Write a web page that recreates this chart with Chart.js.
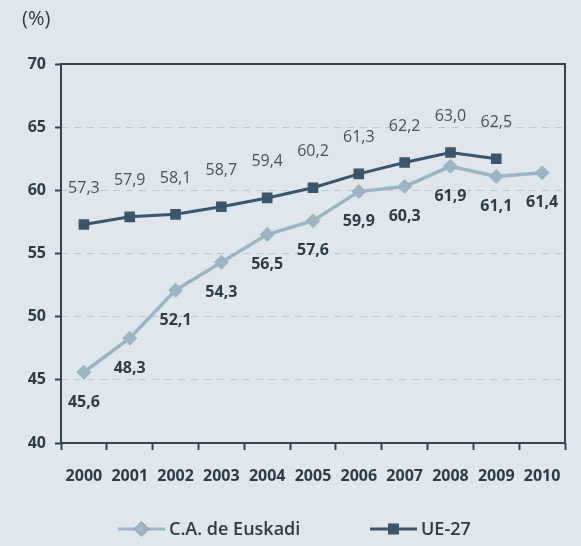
<!DOCTYPE html>
<html>
<head>
<meta charset="utf-8">
<script src="https://cdn.jsdelivr.net/npm/chart.js@4"></script>
<style>
  html, body { margin: 0; padding: 0; background: #dfe6ec; }
  #wrap { width: 581px; height: 546px; position: relative; }
</style>
</head>
<body>
<div id="wrap"><canvas id="myChart" width="581" height="546"></canvas></div>
<script>
const years = ['2000', '2001', '2002', '2003', '2004', '2005', '2006', '2007', '2008', '2009', '2010'];
const euskadi = [45.6, 48.3, 52.1, 54.3, 56.5, 57.6, 59.9, 60.3, 61.9, 61.1, 61.4];
const ue27 = [57.3, 57.9, 58.1, 58.7, 59.4, 60.2, 61.3, 62.2, 63.0, 62.5, null];
const seriesNames = ['C.A. de Euskadi', 'UE-27'];
const unitLabel = '(%)';

const dark = '#34434f';
const ueColor = '#3c5569';
const euColor = '#9db5c1';
const fontFam = '"Open Sans", "DejaVu Sans", sans-serif';

function fmt(v) {
    return v.toFixed(1).replace('.', ',');
}

// value labels, frame, unit and legend
const extras = {
    id: 'extras',
    beforeDatasetsDraw(chart) {
        const { ctx, chartArea: a } = chart;
        ctx.save();
        ctx.strokeStyle = dark;
        ctx.lineWidth = 2;
        ctx.strokeRect(a.left, a.top, a.right - a.left, a.bottom - a.top);
        ctx.restore();
    },
    afterDatasetsDraw(chart) {
        const ctx = chart.ctx;
        ctx.save();
        ctx.textAlign = 'center';
        ctx.textBaseline = 'middle';
        chart.data.datasets.forEach((ds, i) => {
            const meta = chart.getDatasetMeta(i);
            meta.data.forEach((pt, j) => {
                const v = ds.data[j];
                if (v == null) return;
                if (i === 0) {
                    ctx.font = 'bold 16px ' + fontFam;
                    ctx.fillStyle = '#2f3b45';
                    ctx.fillText(fmt(v), pt.x, pt.y + 30);
                } else {
                    ctx.font = '16px ' + fontFam;
                    ctx.fillStyle = '#46525c';
                    ctx.fillText(fmt(v), pt.x, pt.y - 36);
                }
            });
        });

        // unit
        ctx.textAlign = 'left';
        ctx.font = '20px ' + fontFam;
        ctx.fillStyle = '#2f3b45';
        ctx.fillText(unitLabel, 22, 19);

        // legend
        const items = [{ x: 118, ds: chart.data.datasets[0] }, { x: 370, ds: chart.data.datasets[1] }];
        const ly = 529;
        items.forEach(it => {
            ctx.strokeStyle = it.ds.borderColor;
            ctx.lineWidth = 3;
            ctx.beginPath();
            ctx.moveTo(it.x, ly);
            ctx.lineTo(it.x + 47, ly);
            ctx.stroke();
            Chart.helpers.drawPoint(ctx, {
                pointStyle: it.ds.pointStyle,
                radius: it.ds.pointRadius,
                borderWidth: 0,
                rotation: 0
            }, it.x + 23.5, ly);
            ctx.fillStyle = it.ds.borderColor;
            ctx.fill();
            ctx.font = '600 18px ' + fontFam;
            ctx.fillStyle = '#2f3b45';
            ctx.fillText(it.ds.label, it.x + 51, ly + 1);
        });
        ctx.restore();
    }
};

const ctx = document.getElementById('myChart').getContext('2d');
new Chart(ctx, {
    type: 'line',
    data: {
        labels: years,
        datasets: [
            {
                label: seriesNames[0],
                data: euskadi,
                borderColor: euColor,
                backgroundColor: euColor,
                pointBackgroundColor: euColor,
                borderWidth: 3.5,
                pointStyle: 'rectRot',
                pointRadius: 7.5,
                pointBorderWidth: 0,
                tension: 0
            },
            {
                label: seriesNames[1],
                data: ue27,
                borderColor: ueColor,
                backgroundColor: ueColor,
                pointBackgroundColor: ueColor,
                borderWidth: 3,
                pointStyle: 'rect',
                pointRadius: 7.5,
                pointBorderWidth: 0,
                tension: 0
            }
        ]
    },
    options: {
        responsive: false,
        animation: false,
        events: [],
        layout: { padding: { top: 64, right: 16, left: 0, bottom: 0 } },
        plugins: {
            legend: { display: false },
            tooltip: { enabled: false }
        },
        scales: {
            x: {
                offset: true,
                grid: {
                    offset: true,
                    drawOnChartArea: false,
                    drawTicks: true,
                    tickLength: 7,
                    tickWidth: 2,
                    tickColor: dark
                },
                border: { display: false },
                ticks: {
                    color: '#2f3b45',
                    font: { family: fontFam, size: 16, weight: 'bold' },
                    padding: 17,
                    maxRotation: 0,
                    autoSkip: false
                },
                afterFit(scale) { scale.height = 103; }
            },
            y: {
                min: 40,
                max: 70,
                grid: {
                    color: '#c3cacf',
                    lineWidth: 1,
                    tickLength: 6,
                    tickWidth: 2,
                    tickColor: dark,
                    tickBorderDash: []
                },
                border: { display: false, dash: [7, 6] },
                ticks: {
                    stepSize: 5,
                    color: '#2f3b45',
                    font: { family: fontFam, size: 16, weight: 'bold' },
                    padding: 9
                },
                afterFit(scale) { scale.width = 61; }
            }
        }
    },
    plugins: [extras]
});
</script>
</body>
</html>
